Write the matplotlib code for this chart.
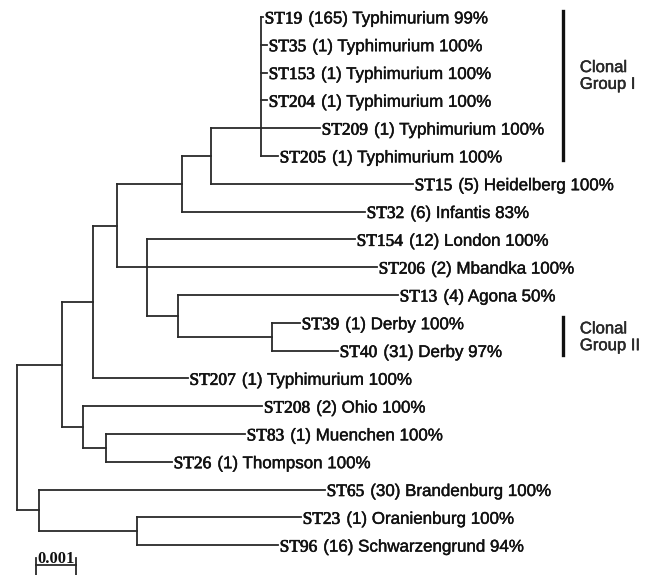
import matplotlib
matplotlib.use("Agg")
import matplotlib.pyplot as plt
import matplotlib.patheffects as pe
from matplotlib.transforms import blended_transform_factory

# MLST tree, branch lengths in substitutions per site
newick = ("(((((((ST19:0.00005,ST35:0.00015,ST153:0.00015,ST204:0.00015,"
          "ST209:0.001475,ST205:0.000425)C:0.00125,ST15:0.00505)A:0.000725,"
          "ST32:0.004575)B:0.001625,(ST154:0.0052,ST206:0.00575,"
          "(ST13:0.0055,(ST39:0.0007,ST40:0.00165)G:0.00235)F:0.000775)E:0.00075)D:0.0006,"
          "ST207:0.00237)H:0.000775,(ST208:0.00448,(ST83:0.003475,ST26:0.00165)K:0.000575)J:0.000525)I:0.001125,"
          "(ST65:0.00715,(ST23:0.0041,ST96:0.003525)M:0.00245)L:0.00055)root;")

# polytomies are drawn joined at one child's row
attach_at = {"C": "ST209", "E": "ST206"}

sequence_types = ["ST19", "ST35", "ST153", "ST204", "ST209", "ST205", "ST15", "ST32",
                  "ST154", "ST206", "ST13", "ST39", "ST40", "ST207", "ST208", "ST83",
                  "ST26", "ST65", "ST23", "ST96"]
isolates = [165, 1, 1, 1, 1, 1, 5, 6, 12, 2, 4, 1, 31, 1, 2, 1, 1, 30, 1, 16]
serovars = ["Typhimurium", "Typhimurium", "Typhimurium", "Typhimurium", "Typhimurium",
            "Typhimurium", "Heidelberg", "Infantis", "London", "Mbandka", "Agona",
            "Derby", "Derby", "Typhimurium", "Ohio", "Muenchen", "Thompson",
            "Brandenburg", "Oranienburg", "Schwarzengrund"]
agreement = [99, 100, 100, 100, 100, 100, 100, 83, 100, 100, 50, 100, 97, 100, 100,
             100, 100, 100, 100, 94]

clonal_groups = [("Clonal\nGroup I", "ST19", "ST205"),
                 ("Clonal\nGroup II", "ST39", "ST40")]
scale_length = 0.001


def parse(s):
    pos = 0

    def node():
        nonlocal pos
        children = []
        if s[pos] == "(":
            pos += 1
            children.append(node())
            while s[pos] == ",":
                pos += 1
                children.append(node())
            pos += 1
        start = pos
        while s[pos] not in ",);":
            pos += 1
        name, _, length = s[start:pos].partition(":")
        return {"name": name, "length": float(length or 0), "children": children}

    return node()


def layout(n, x0, rows):
    n["x0"] = x0
    n["x"] = x0 + n["length"]
    if not n["children"]:
        n["y"] = rows[n["name"]]
        return
    for c in n["children"]:
        layout(c, n["x"], rows)
    if n["name"] in attach_at:
        n["y"] = rows[attach_at[n["name"]]]
    else:
        n["y"] = (n["children"][0]["y"] + n["children"][-1]["y"]) / 2


def walk(n):
    yield n
    for c in n["children"]:
        yield from walk(c)


tree = parse(newick)
rows = {st: i for i, st in enumerate(sequence_types)}
layout(tree, 0.0, rows)
info = {st: (k, s, p) for st, k, s, p in zip(sequence_types, isolates, serovars, agreement)}

fig = plt.figure(figsize=(6.53, 5.75), dpi=100)
ax = fig.add_axes([0, 0, 1, 1])
px = 0.001 / 40
row_px = 27.8
ax.set_xlim(-17 * px, 636 * px)
ax.set_ylim((575 - 17) / row_px, -17 / row_px)
ax.axis("off")

ink = "#111111"
heavy = [pe.withStroke(linewidth=0.5, foreground=ink)]
light = [pe.withStroke(linewidth=0.3, foreground=ink)]
line_kw = dict(color="#2a2a2a", lw=1.3, solid_capstyle="projecting")

for n in walk(tree):
    if n["length"] > 0:
        ax.plot([n["x0"], n["x"]], [n["y"], n["y"]], **line_kw)
    if n["children"]:
        ys = [c["y"] for c in n["children"]]
        ax.plot([n["x"], n["x"]], [min(ys), max(ys)], **line_kw)
    else:
        k, sero, pct = info[n["name"]]
        t1 = ax.annotate(n["name"], xy=(n["x"], n["y"]), xytext=(1.2, -4.6),
                         textcoords="offset points", va="baseline", ha="left",
                         family="Liberation Serif", fontsize=12.5, color=ink,
                         path_effects=heavy)
        ax.annotate(f"({k}) {sero} {pct}%", xy=(1, n["y"]), xycoords=(t1, "data"),
                    xytext=(4.3, -4.6), textcoords="offset points", va="baseline",
                    ha="left", family="Liberation Sans", fontsize=12.2, color=ink,
                    path_effects=light)

# clonal group brackets
trans = blended_transform_factory(ax.transAxes, ax.transData)
for label, first, last in clonal_groups:
    y0, y1 = rows[first], rows[last]
    ax.plot([0.862, 0.862], [y0 - 0.2, y1 + 0.15], transform=trans,
            color=ink, lw=2.4)
    ax.text(0.888, y0 + 0.4 * (y1 - y0 + 1) - 0.28, label, transform=trans,
            va="center", ha="left", family="Liberation Sans", fontsize=12,
            color="#2a2a2a", linespacing=1.15, path_effects=light)

# scale bar
sx0 = 19 * px
sy = (565 - 17) / row_px
ax.plot([sx0, sx0 + scale_length], [sy, sy], **line_kw)
for xe in (sx0, sx0 + scale_length):
    ax.plot([xe, xe], [sy - 0.25, sy + 0.4], **line_kw)
ax.text(sx0 + scale_length / 2, sy - 0.06, f"{scale_length:g}", ha="center",
        va="baseline", family="Liberation Serif", fontsize=12, fontweight="bold",
        color=ink)

fig.savefig("out.png", dpi=100)
